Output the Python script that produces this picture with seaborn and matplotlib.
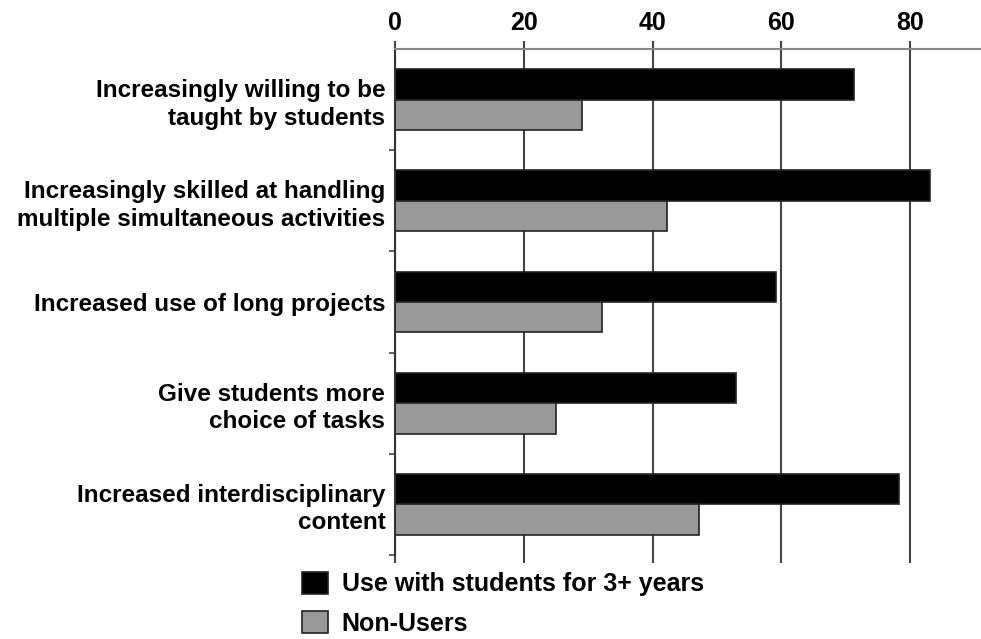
import matplotlib
matplotlib.use("Agg")
import matplotlib.pyplot as plt
import numpy as np
import pandas as pd
import seaborn as sns

# values (percent of teachers)
items = [
    "Increasingly willing to be\ntaught by students",
    "Increasingly skilled at handling\nmultiple simultaneous activities",
    "Increased use of long projects",
    "Give students more\nchoice of tasks",
    "Increased interdisciplinary\ncontent",
]
users = [71.3, 83.1, 59.2, 53.0, 78.2]
non_users = [29.0, 42.3, 32.2, 25.0, 47.2]
groups = ["Use with students for 3+ years", "Non-Users"]
x_ticks = [0, 20, 40, 60, 80]

df = pd.DataFrame({
    "item": items * 2,
    "pct": users + non_users,
    "group": [groups[0]] * len(items) + [groups[1]] * len(items),
})

sns.set_style("white")
plt.rcParams["font.family"] = ["Liberation Sans", "DejaVu Sans"]
plt.rcParams["font.weight"] = "bold"
plt.rcParams["text.color"] = "black"

fig = plt.figure(figsize=(9.81, 6.39), dpi=100)
ax = fig.add_axes([395 / 981, 1 - 555 / 639, 1 - 395 / 981, (555 - 49) / 639])

sns.barplot(data=df, y="item", x="pct", hue="group", orient="h",
            palette=["#000000", "#999999"], width=0.6, edgecolor="#222222",
            linewidth=1.2, ax=ax, legend=True)

ax.set_xlim(0, 91)
ax.set_ylim(4.5, -0.5)
ax.set_xlabel("")
ax.set_ylabel("")
ax.set_xticks(x_ticks)
ax.xaxis.tick_top()
ax.tick_params(axis="x", top=True, bottom=True, labeltop=True, labelbottom=False,
               length=6, width=1.5, color="#444444", pad=4, labelsize=18,
               labelcolor="black")
ax.tick_params(axis="y", which="major", length=0, pad=7, labelsize=17.5,
               labelcolor="black")
ax.set_yticks(np.arange(0.5, 5, 1), minor=True)
ax.tick_params(axis="y", which="minor", left=True, length=4, width=1.2, color="#444444")
for lab in ax.get_yticklabels():
    lab.set_linespacing(1.25)
    lab.set_fontweight("bold")
for lab in ax.get_xticklabels():
    lab.set_fontweight("bold")

ax.grid(axis="x", color="#444444", linewidth=1.5)
ax.set_axisbelow(True)
for side in ["right", "bottom"]:
    ax.spines[side].set_visible(False)
ax.spines["top"].set_color("#888888")
ax.spines["top"].set_linewidth(1.5)
ax.spines["left"].set_color("#333333")
ax.spines["left"].set_linewidth(1.5)

handles, labels = ax.get_legend_handles_labels()
ax.get_legend().remove()
fig.legend(handles, labels, loc="upper left", bbox_to_anchor=(302 / 981, 1 - 572 / 639),
           frameon=False, borderpad=0, borderaxespad=0, handlelength=1.04,
           handleheight=0.96, handletextpad=0.55, labelspacing=0.6,
           prop={"size": 18, "weight": "bold"})

fig.savefig("out.png", dpi=100)
